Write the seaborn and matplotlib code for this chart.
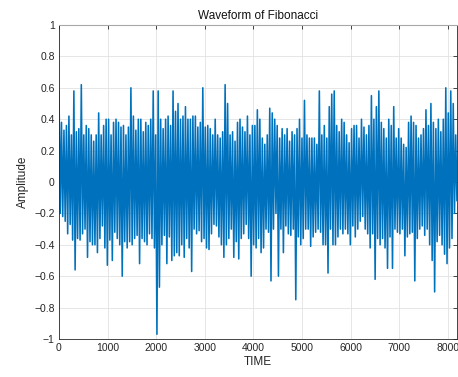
import numpy as np
import pandas as pd
import matplotlib
matplotlib.use("Agg")
import matplotlib.pyplot as plt
import seaborn as sns

# envelope of the waveform
upper = [
    0.58, 0.38, 0.33, 0.36, 0.42, 0.30, 0.58, 0.32, 0.34, 0.62, 0.30, 0.36, 0.34, 0.30, 0.26, 0.30, 0.44, 0.30, 0.36, 0.40, 0.40,
    0.30, 0.38, 0.40, 0.38, 0.35, 0.36, 0.30, 0.35, 0.60, 0.42, 0.33, 0.40, 0.40, 0.32, 0.38, 0.36, 0.40, 0.58, 0.30, 0.58, 0.40, 0.34, 0.40,
    0.42, 0.36, 0.58, 0.45, 0.50, 0.40, 0.42, 0.48, 0.40, 0.40, 0.42, 0.42, 0.35, 0.38, 0.60, 0.35, 0.36, 0.34, 0.30, 0.40, 0.30, 0.28,
    0.32, 0.62, 0.50, 0.30, 0.32, 0.26, 0.38, 0.40, 0.35, 0.32, 0.42, 0.30, 0.36, 0.36, 0.46, 0.40, 0.28, 0.24, 0.30, 0.47, 0.44, 0.40,
    0.36, 0.28, 0.34, 0.30, 0.34, 0.26, 0.32, 0.30, 0.34, 0.40, 0.28, 0.52, 0.30, 0.28, 0.28, 0.28, 0.24, 0.58, 0.30, 0.36, 0.28, 0.48, 0.56,
    0.58, 0.36, 0.32, 0.40, 0.38, 0.30, 0.25, 0.34, 0.36, 0.36, 0.28, 0.40, 0.35, 0.30, 0.36, 0.55, 0.40, 0.48, 0.58, 0.38, 0.34, 0.28,
    0.40, 0.36, 0.48, 0.28, 0.34, 0.28, 0.24, 0.22, 0.38, 0.42, 0.38, 0.36, 0.28, 0.30, 0.34, 0.46, 0.36, 0.50, 0.38, 0.34, 0.40, 0.32,
    0.40, 0.60, 0.44, 0.58, 0.50, 0.30,
]
lower = [
    -0.20, -0.22, -0.25, -0.33, -0.27, -0.37, -0.56, -0.36, -0.37, -0.33, -0.30, -0.48, -0.38, -0.40, -0.40, -0.45, -0.36, -0.28, -0.42, -0.53, -0.37,
    -0.50, -0.32, -0.36, -0.40, -0.60, -0.38, -0.42, -0.38, -0.40, -0.36, -0.34, -0.52, -0.36, -0.38, -0.40, -0.33, -0.36, -0.42, -0.97, -0.67, -0.40, -0.34, -0.52,
    -0.35, -0.50, -0.47, -0.45, -0.47, -0.40, -0.48, -0.36, -0.42, -0.57, -0.30, -0.33, -0.31, -0.38, -0.36, -0.42, -0.43, -0.33, -0.27, -0.28, -0.35, -0.40,
    -0.48, -0.40, -0.36, -0.30, -0.48, -0.38, -0.49, -0.36, -0.33, -0.27, -0.36, -0.60, -0.40, -0.42, -0.36, -0.45, -0.42, -0.30, -0.32, -0.63, -0.30, -0.20,
    -0.60, -0.30, -0.45, -0.28, -0.33, -0.34, -0.30, -0.75, -0.35, -0.40, -0.36, -0.30, -0.30, -0.41, -0.35, -0.32, -0.30, -0.32, -0.40, -0.40, -0.58, -0.30, -0.40,
    -0.40, -0.35, -0.30, -0.33, -0.30, -0.33, -0.40, -0.28, -0.35, -0.30, -0.25, -0.22, -0.30, -0.33, -0.42, -0.33, -0.62, -0.36, -0.40, -0.36, -0.42, -0.55,
    -0.35, -0.55, -0.30, -0.32, -0.33, -0.30, -0.47, -0.35, -0.33, -0.32, -0.63, -0.36, -0.30, -0.28, -0.34, -0.30, -0.40, -0.50, -0.70, -0.38, -0.34, -0.40,
    -0.46, -0.52, -0.42, -0.36, -0.20, -0.12,
]

x_ticks = [0, 1000, 2000, 3000, 4000, 5000, 6000, 7000, 8000]
y_ticks = [-1, -0.8, -0.6, -0.4, -0.2, 0, 0.2, 0.4, 0.6, 0.8, 1]
y_labels = ["\u22121", "\u22120.8", "\u22120.6", "\u22120.4", "\u22120.2", "0",
            "0.2", "0.4", "0.6", "0.8", "1"]
n_samples = 8192

# alternate max / min of each column so the line sweeps the envelope
n = len(upper)
time = np.linspace(0, n_samples - 1, 2 * n)
amp = np.empty(2 * n)
amp[0::2] = upper
amp[1::2] = lower
df = pd.DataFrame({"TIME": time, "Amplitude": amp})

sns.set_theme(style="white")
plt.rcParams["font.family"] = ["Liberation Sans", "DejaVu Sans"]

fig = plt.figure(figsize=(4.58, 3.77), dpi=100)
ax = fig.add_axes([59 / 458, 38 / 377, 398 / 458, 314 / 377])
sns.lineplot(data=df, x="TIME", y="Amplitude", ax=ax, color="#0072BD",
             linewidth=1.15, estimator=None, sort=False)

ax.set_xlim(0, n_samples)
ax.set_ylim(-1, 1)
ax.set_xticks(x_ticks)
ax.set_xticklabels([str(t) for t in x_ticks])
ax.set_yticks(y_ticks)
ax.set_yticklabels(y_labels)
ax.set_axisbelow(True)
ax.grid(True, color="#e2e2e2", linewidth=0.6)
ax.tick_params(direction="in", length=3, width=0.6, top=True, right=True,
               labelsize=7.5, colors="#262626", pad=3)
for side in ["left", "bottom", "right"]:
    ax.spines[side].set_color("#262626")
    ax.spines[side].set_linewidth(0.6)
ax.spines["top"].set_color("#a8a8a8")
ax.spines["top"].set_linewidth(0.8)

ax.set_title("Waveform of Fibonacci", fontsize=8.5, color="#111111", pad=4)
ax.set_xlabel("TIME", fontsize=8.5, color="#262626", labelpad=2)
ax.set_ylabel("Amplitude", fontsize=8.5, color="#262626", labelpad=4)

fig.savefig("out.png", dpi=100)
